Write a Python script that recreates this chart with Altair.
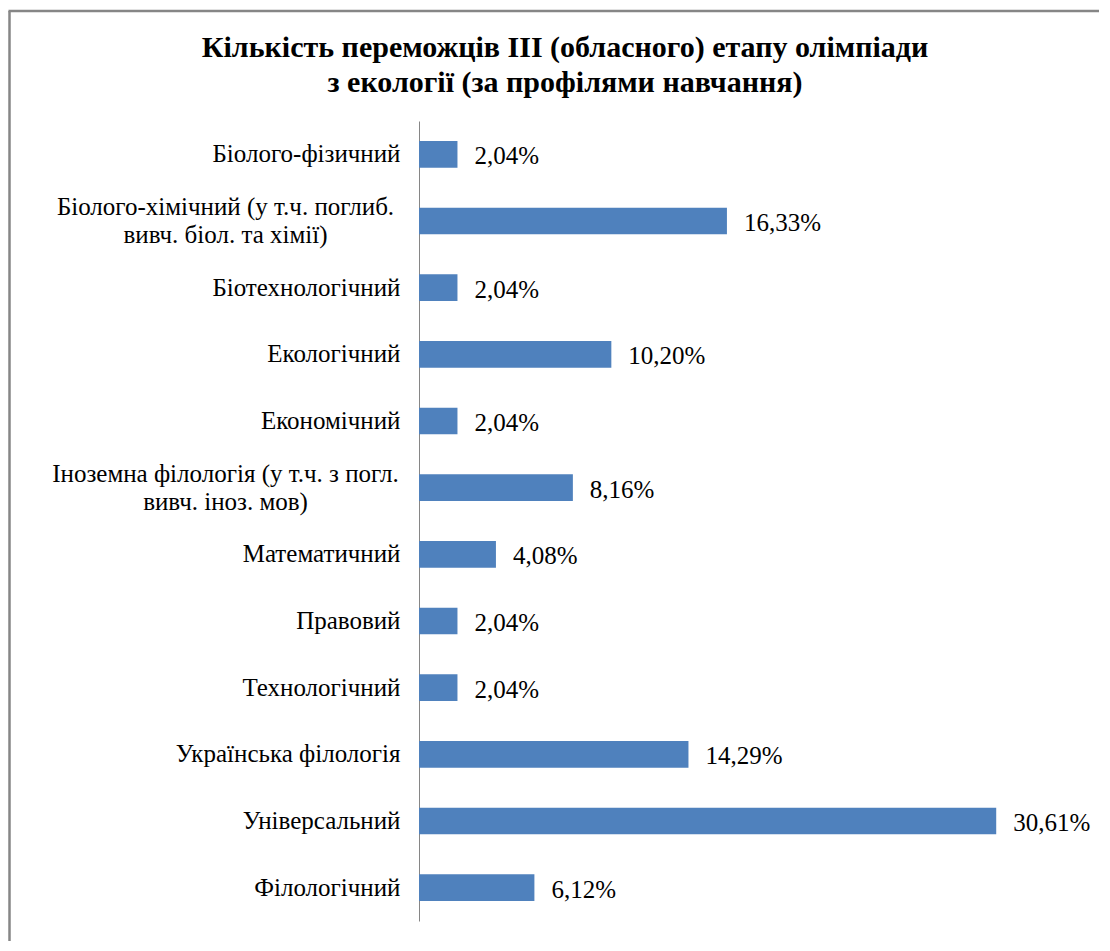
import altair as alt
import pandas as pd

categories = [
    "Біолого-фізичний",
    "Біолого-хімічний (у т.ч. поглиб.\nвивч. біол. та хімії)",
    "Біотехнологічний",
    "Екологічний",
    "Економічний",
    "Іноземна філологія (у т.ч. з погл.\nвивч. іноз. мов)",
    "Математичний",
    "Правовий",
    "Технологічний",
    "Українська філологія",
    "Універсальний",
    "Філологічний",
]
values = [2.04, 16.33, 2.04, 10.20, 2.04, 8.16, 4.08, 2.04, 2.04, 14.29, 30.61, 6.12]
title_lines = [
    "Кількість переможців III (обласного) етапу олімпіади",
    "з екології (за профілями навчання)",
]

df = pd.DataFrame({"category": categories, "value": values})

FONT = "Liberation Serif"
BAR = "#4F81BD"
GRAY = "#868686"
multi_test = "indexof(datum.value, '\\n') >= 0"

y_enc = alt.Y(
    "category:N",
    sort=categories,
    scale=alt.Scale(paddingInner=0.6, paddingOuter=0.3),
    axis=alt.Axis(
        title=None,
        ticks=False,
        grid=False,
        domain=True,
        domainColor=GRAY,
        domainWidth=1,
        labelFont=FONT,
        labelFontSize=25,
        labelColor="black",
        labelLimit=0,
        labelLineHeight=28,
        labelExpr="split(datum.label, '\\n')",
        labelAlign={"condition": {"test": multi_test, "value": "center"}, "value": "right"},
        labelPadding={"condition": {"test": multi_test, "value": 194}, "value": 19},
        labelOffset={"condition": {"test": multi_test, "value": -14}, "value": 0},
    ),
)
x_enc = alt.X("value:Q", scale=alt.Scale(domain=[0, 35], nice=False), axis=None)

base = alt.Chart(df)
bars = base.mark_bar(color=BAR).encode(y=y_enc, x=x_enc)
labels = base.transform_calculate(
    lab="replace(format(datum.value, '.2f'), '.', ',') + '%'"
).mark_text(
    align="left", baseline="middle", dx=17, dy=2, font=FONT, fontSize=25, color="black"
).encode(y=alt.Y("category:N", sort=categories), x="value:Q", text="lab:N")

frame_df = pd.DataFrame({"k": [0]})
frame_left = alt.Chart(frame_df).mark_rule(color=GRAY, strokeWidth=2.5).encode(
    x=alt.value(-409.5), y=alt.value(-110), y2=alt.value(840)
)
frame_top = alt.Chart(frame_df).mark_rule(color=GRAY, strokeWidth=2.5).encode(
    x=alt.value(-410.5), x2=alt.value(720), y=alt.value(-110)
)

chart = alt.layer(frame_left, frame_top, bars, labels).properties(
    width=660,
    height=800,
    title=alt.Title(
        text=title_lines,
        font=FONT,
        fontSize=30,
        fontWeight="bold",
        lineHeight=35,
        color="black",
        anchor="middle",
        frame="group",
        dx=-184,
        offset=-88,
    ),
    autosize=alt.AutoSizeParams(type="none"),
    padding={"left": 411, "top": 113, "right": 20, "bottom": 20},
).configure_view(strokeWidth=0)

chart.save("out.html", embed_options={"renderer": "svg", "actions": False})
